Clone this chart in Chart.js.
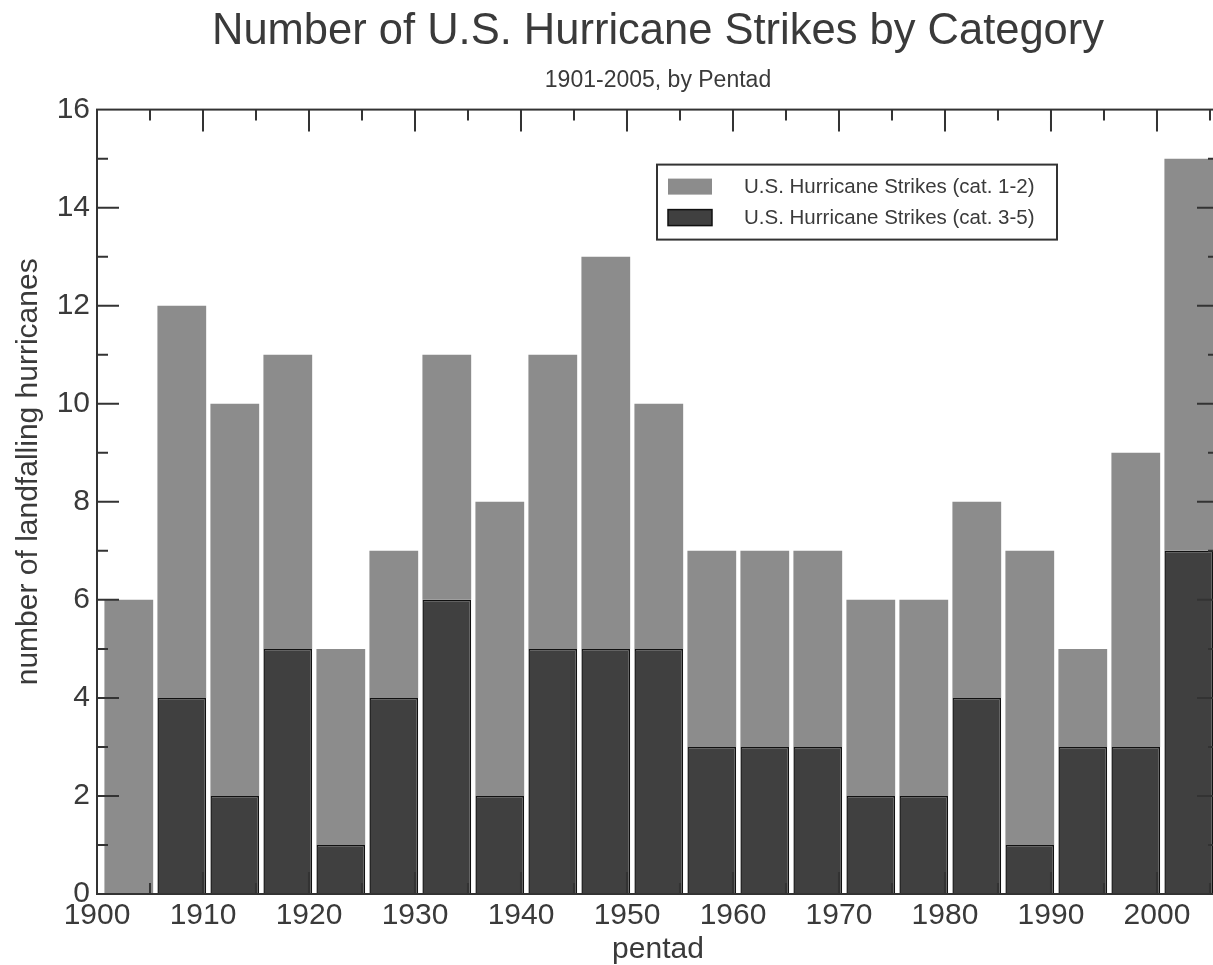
<!DOCTYPE html>
<html>
<head>
<meta charset="utf-8">
<title>Number of U.S. Hurricane Strikes by Category</title>
<script src="https://cdn.jsdelivr.net/npm/chart.js@4.4.1/dist/chart.umd.min.js"></script>
<style>
  html, body { margin: 0; padding: 0; background: #fff; overflow: hidden; }
  #wrap { width: 1221px; height: 965px; }
</style>
</head>
<body>
<div id="wrap"><canvas id="hurricaneChart"></canvas></div>
<script>
// pentads 1901-1905 ... 2001-2005, placed at their mid year
const pentadCenters = [1903, 1908, 1913, 1918, 1923, 1928, 1933, 1938, 1943, 1948, 1953,
                       1958, 1963, 1968, 1973, 1978, 1983, 1988, 1993, 1998, 2003];
const strikesCat35 = [0, 4, 2, 5, 1, 4, 6, 2, 5, 5, 5, 3, 3, 3, 2, 2, 4, 1, 3, 3, 7];
const strikesCat12 = [6, 8, 8, 6, 4, 3, 5, 6, 6, 8, 5, 4, 4, 4, 4, 4, 4, 6, 2, 6, 8];
const xTickValues = [1900, 1910, 1920, 1930, 1940, 1950, 1960, 1970, 1980, 1990, 2000];
const yTickValues = [0, 2, 4, 6, 8, 10, 12, 14, 16];

const labelCat12 = 'U.S. Hurricane Strikes (cat. 1-2)';
const labelCat35 = 'U.S. Hurricane Strikes (cat. 3-5)';

const GRAY = '#8c8c8c';
const DARK = '#404040';
const INK = '#333333';

Chart.defaults.font.family = "'Liberation Sans', Arial, sans-serif";
Chart.defaults.color = '#3a3a3a';

// box, inward ticks on all four sides, y title and legend
const frameAndTicks = {
    id: 'frameAndTicks',
    afterDatasetsDraw(chart) {
        const { ctx, chartArea: a, scales: { x, y } } = chart;
        ctx.save();
        ctx.strokeStyle = INK;
        ctx.lineWidth = 2;
        ctx.strokeRect(a.left, a.top, a.right - a.left, a.bottom - a.top);
        ctx.beginPath();
        for (let v = 1900; v <= x.max; v += 5) {
            const px = x.getPixelForValue(v);
            const len = v % 10 === 0 ? 22 : 11;
            ctx.moveTo(px, a.bottom); ctx.lineTo(px, a.bottom - len);
            ctx.moveTo(px, a.top); ctx.lineTo(px, a.top + len);
        }
        for (let v = 1; v < y.max; v += 1) {
            const py = y.getPixelForValue(v);
            const len = v % 2 === 0 ? 22 : 11;
            ctx.moveTo(a.left, py); ctx.lineTo(a.left + len, py);
            ctx.moveTo(a.right, py); ctx.lineTo(a.right - len, py);
        }
        ctx.stroke();
        ctx.restore();
    },
    afterDraw(chart) {
        const { ctx, chartArea: a } = chart;
        ctx.save();
        // y axis title
        ctx.fillStyle = '#3a3a3a';
        ctx.font = "30px 'Liberation Sans', Arial, sans-serif";
        ctx.textAlign = 'center';
        ctx.textBaseline = 'middle';
        ctx.translate(29, (a.top + a.bottom) / 2 - 30);
        ctx.rotate(-Math.PI / 2);
        ctx.fillText('number of landfalling hurricanes', 0, 0);
        ctx.restore();

        // legend
        const bx = a.left + 560, by = a.top + 55, bw = 400, bh = 75;
        ctx.save();
        ctx.fillStyle = '#fff';
        ctx.fillRect(bx, by, bw, bh);
        ctx.strokeStyle = INK;
        ctx.lineWidth = 2;
        ctx.strokeRect(bx, by, bw, bh);
        const items = [
            { label: labelCat12, fill: GRAY, border: null },
            { label: labelCat35, fill: DARK, border: '#111' }
        ];
        ctx.font = "20.5px 'Liberation Sans', Arial, sans-serif";
        ctx.textAlign = 'left';
        ctx.textBaseline = 'middle';
        items.forEach((it, i) => {
            const cy = by + 22 + i * 31;
            ctx.fillStyle = it.fill;
            ctx.fillRect(bx + 11, cy - 8, 44, 16);
            if (it.border) {
                ctx.strokeStyle = it.border;
                ctx.lineWidth = 1.5;
                ctx.strokeRect(bx + 11, cy - 8, 44, 16);
            }
            ctx.fillStyle = '#3a3a3a';
            ctx.fillText(it.label, bx + 87, cy + 1);
        });
        ctx.restore();
    }
};

const ctx = document.getElementById('hurricaneChart').getContext('2d');
new Chart(ctx, {
    type: 'bar',
    data: {
        labels: pentadCenters,
        datasets: [
            {
                label: labelCat35,
                data: strikesCat35,
                backgroundColor: DARK,
                borderColor: '#111',
                borderWidth: 1.5,
                categoryPercentage: 1,
                barPercentage: 0.92
            },
            {
                label: labelCat12,
                data: strikesCat12,
                backgroundColor: GRAY,
                borderWidth: 0,
                categoryPercentage: 1,
                barPercentage: 0.92
            }
        ]
    },
    options: {
        responsive: true,
        maintainAspectRatio: false,
        animation: false,
        layout: { padding: { left: 0, right: 2, top: 0, bottom: 0 } },
        scales: {
            x: {
                type: 'linear',
                stacked: true,
                offset: false,
                min: 1900,
                max: 2005.85,
                grid: { display: false, drawTicks: false, offset: false },
                border: { display: false },
                afterBuildTicks: s => { s.ticks = xTickValues.map(v => ({ value: v })); },
                afterFit: s => { s.height = 71; },
                ticks: {
                    padding: 4,
                    font: { size: 30 },
                    color: '#3a3a3a',
                    callback: v => String(v)
                },
                title: {
                    display: true,
                    text: 'pentad',
                    font: { size: 30, lineHeight: 1 },
                    color: '#3a3a3a',
                    padding: { top: 0, bottom: 0 }
                }
            },
            y: {
                stacked: true,
                min: 0,
                max: 16,
                grid: { display: false, drawTicks: false },
                border: { display: false },
                afterBuildTicks: s => { s.ticks = yTickValues.map(v => ({ value: v })); },
                afterFit: s => { s.width = 97; },
                ticks: {
                    padding: 7,
                    font: { size: 30 },
                    color: '#3a3a3a'
                }
            }
        },
        plugins: {
            legend: { display: false },
            tooltip: { enabled: false },
            title: {
                display: true,
                fullSize: false,
                text: 'Number of U.S. Hurricane Strikes by Category',
                font: { size: 43.5, weight: 'normal' },
                color: '#3a3a3a',
                padding: { top: 6, bottom: 0 }
            },
            subtitle: {
                display: true,
                fullSize: false,
                text: '1901-2005, by Pentad',
                font: { size: 23 },
                color: '#3a3a3a',
                padding: { top: 9, bottom: 14.8 }
            }
        }
    },
    plugins: [frameAndTicks]
});
</script>
</body>
</html>
